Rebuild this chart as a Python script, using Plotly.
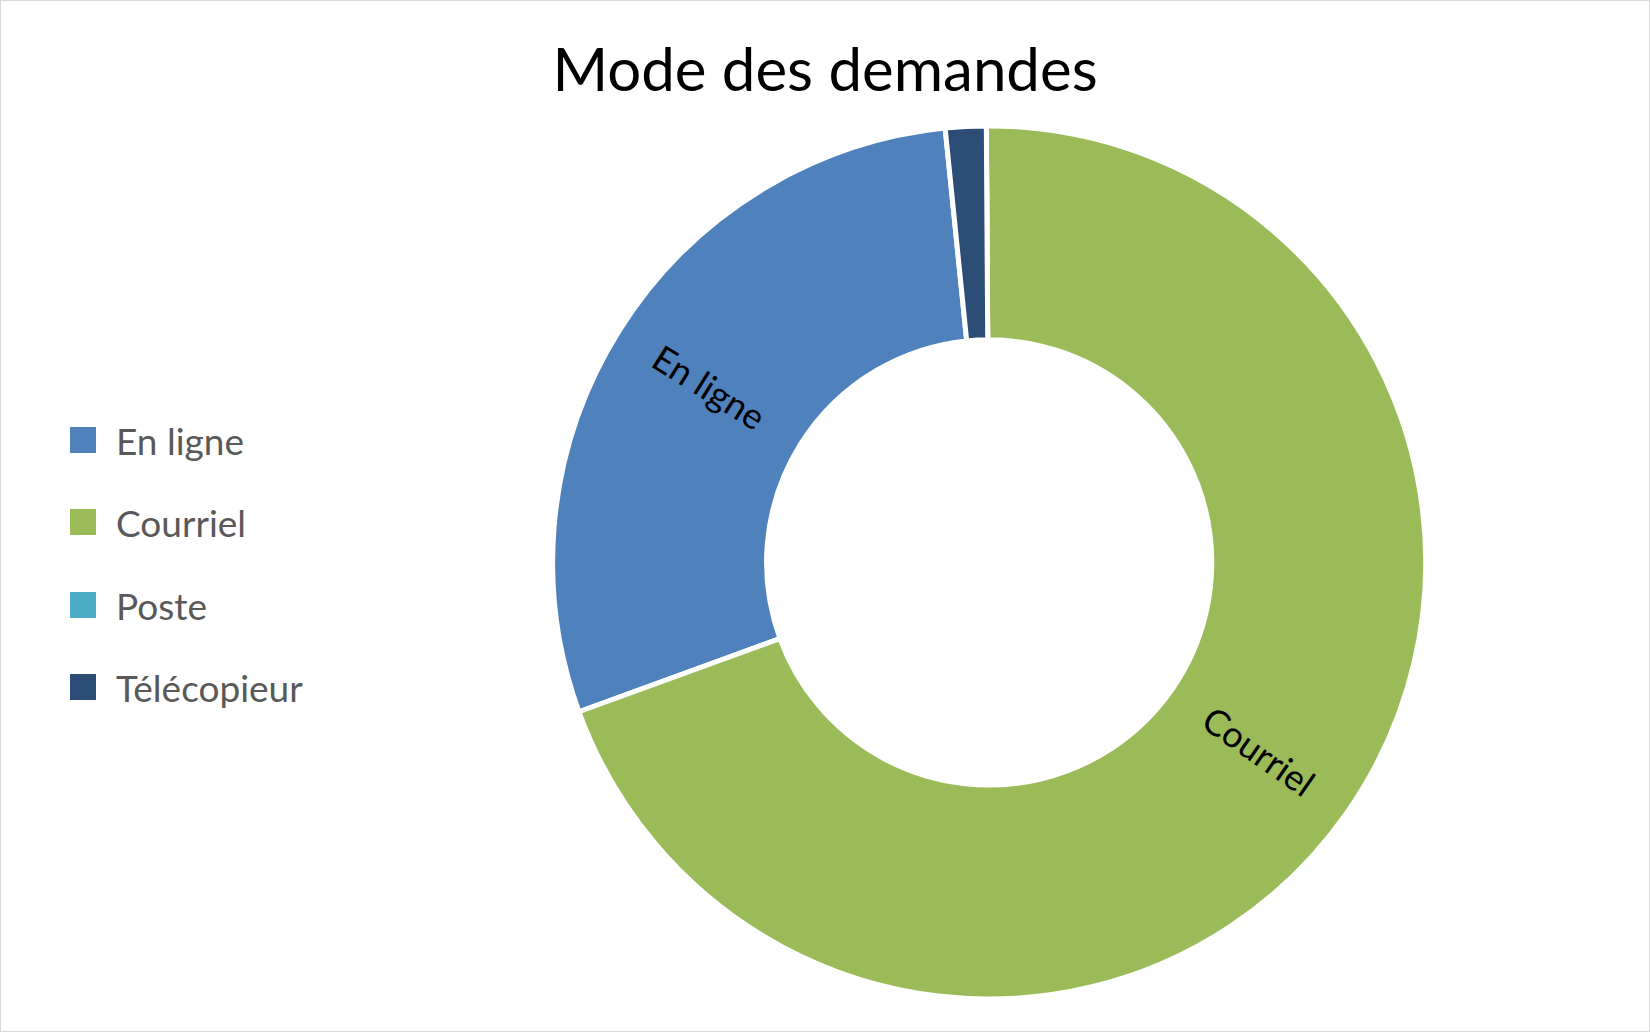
import math
import plotly.graph_objects as go

# data
categories = ['En ligne', 'Courriel', 'Poste', 'Télécopieur']
requests = [77, 185, 0, 4]
slice_labels = ['En ligne', 'Courriel', '', '']

# colour theme
COLORS = ['#4F81BD', '#9BBB59', '#4BACC6', '#2C4D75']
FONT = 'Lato'

W, H = 1650, 1032
ROTATION = 250
HOLE = 0.51
DOMAIN_X = [0.3345, 0.8645]
DOMAIN_Y = [0.032, 0.878]

fig = go.Figure(
    go.Pie(
        labels=categories,
        values=requests,
        textinfo='none',
        hole=HOLE,
        sort=False,
        direction='counterclockwise',
        rotation=ROTATION,
        marker=dict(colors=COLORS, line=dict(color='white', width=5)),
        domain=dict(x=DOMAIN_X, y=DOMAIN_Y),
        showlegend=False,
        hoverinfo='label+value+percent',
    )
)

# radial slice labels (plotly flips them horizontal when a slice crosses 9 o'clock)
total = sum(requests)
cx = (DOMAIN_X[0] + DOMAIN_X[1]) / 2
cy = (DOMAIN_Y[0] + DOMAIN_Y[1]) / 2
r_px = (DOMAIN_Y[1] - DOMAIN_Y[0]) * H / 2
r_mid = r_px * (1 + HOLE) / 2
annotations = []
swept = 0
for i, (lab, v) in enumerate(zip(slice_labels, requests)):
    span = 360 * v / total
    if i == 0:
        mid = ROTATION + span / 2
    else:
        mid = ROTATION - swept - span / 2
        swept += span
    if not lab:
        continue
    a = math.radians(mid)
    ang = (mid - 90) % 180
    if ang > 90:
        ang -= 180
    annotations.append(dict(
        text=lab, xref='paper', yref='paper',
        x=cx + r_mid * math.sin(a) / W, y=cy + r_mid * math.cos(a) / H,
        xanchor='center', yanchor='middle', showarrow=False, textangle=ang,
        font=dict(family=FONT, size=36, color='black'),
    ))

# legend drawn by hand so the colour squares can be as big as in the original
legend_rows = [440, 522, 605, 687]
shapes = [
    dict(type='rect', xref='paper', yref='paper',
         x0=0, x1=1, y0=0, y1=1,
         line=dict(color='#D9D9D9', width=2), fillcolor='rgba(0,0,0,0)')
]
for name, color, row in zip(categories, COLORS, legend_rows):
    yc = 1 - row / H
    shapes.append(dict(
        type='rect', xref='paper', yref='paper',
        x0=70 / W, x1=96 / W, y0=yc - 13 / H, y1=yc + 13 / H,
        line=dict(width=0), fillcolor=color,
    ))
    annotations.append(dict(
        text=name, xref='paper', yref='paper', x=114 / W, y=yc,
        xanchor='left', yanchor='middle', showarrow=False,
        font=dict(family=FONT, size=37, color='#595959'),
    ))

fig.update_layout(
    width=W,
    height=H,
    margin=dict(l=0, r=0, t=0, b=0),
    paper_bgcolor='white',
    plot_bgcolor='white',
    title=dict(
        text='Mode des demandes',
        x=0.5,
        xanchor='center',
        y=1 - 70 / H,
        yanchor='middle',
        font=dict(family=FONT, size=60, color='black'),
    ),
    shapes=shapes,
    annotations=annotations,
)

fig.write_html('out.html', config=dict(displayModeBar=False),
               post_script="document.body.style.margin='0';")
